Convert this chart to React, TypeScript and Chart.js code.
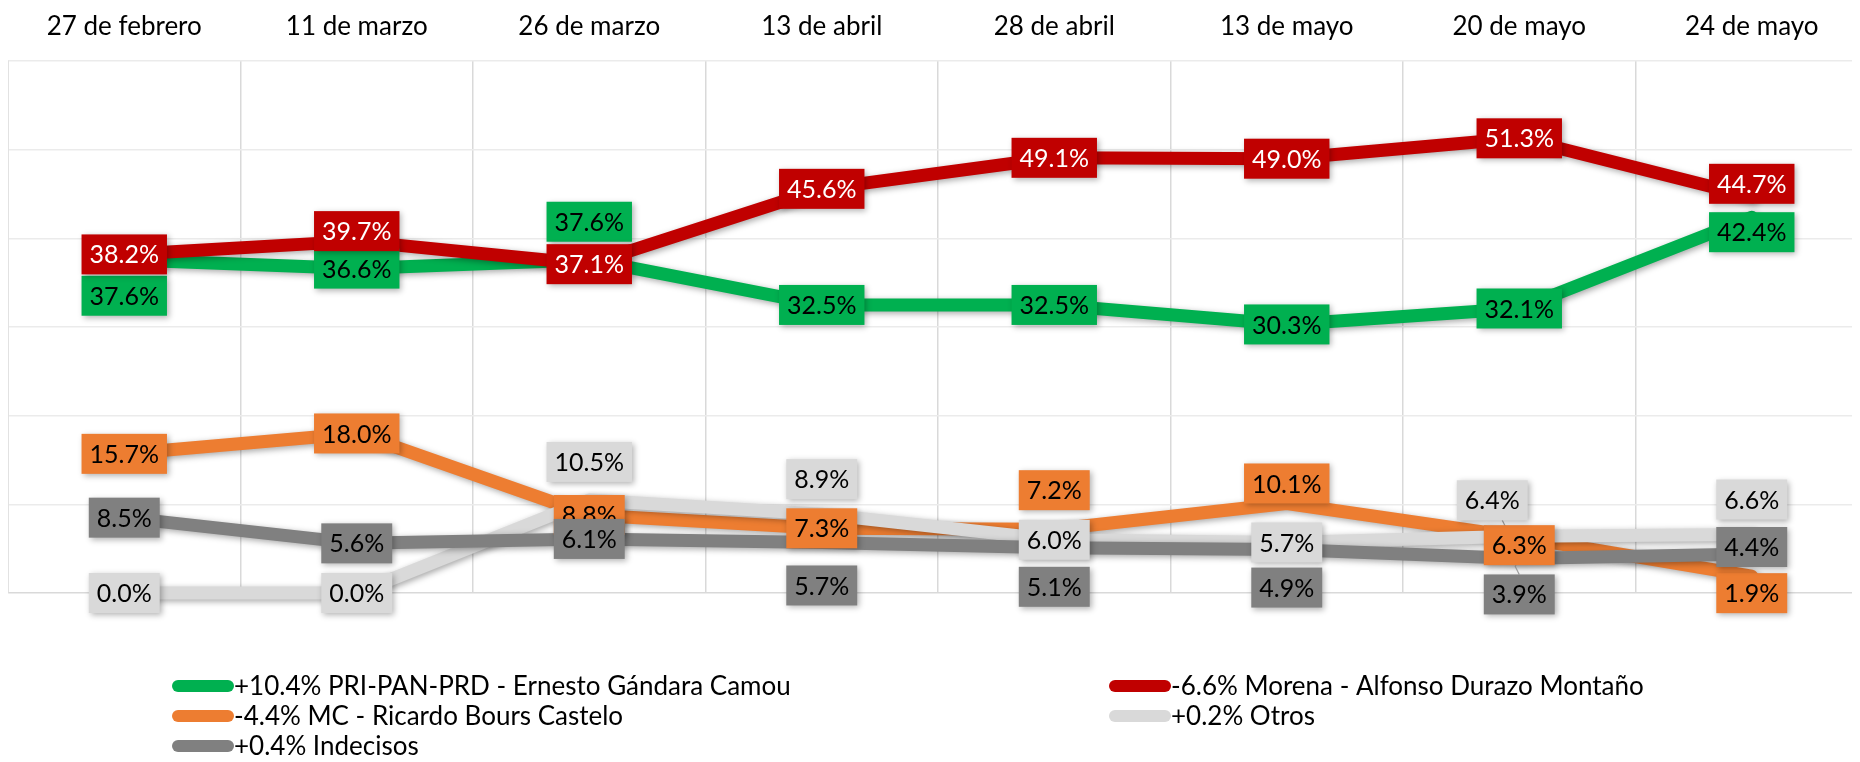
import React, { useEffect, useRef } from "react";
import { Chart, registerables } from "chart.js";
Chart.register(...registerables);

const categories = ["27 de febrero", "11 de marzo", "26 de marzo", "13 de abril", "28 de abril", "13 de mayo", "20 de mayo", "24 de mayo"];
const seriesNames = [
  "+10.4% PRI-PAN-PRD - Ernesto Gándara Camou",
  "-6.6% Morena - Alfonso Durazo Montaño",
  "-4.4% MC - Ricardo Bours Castelo",
  "+0.2% Otros",
  "+0.4% Indecisos",
];
const pripanprd = [37.6, 36.6, 37.6, 32.5, 32.5, 30.3, 32.1, 42.4];
const morena = [38.2, 39.7, 37.1, 45.6, 49.1, 49.0, 51.3, 44.7];
const mc = [15.7, 18.0, 8.8, 7.3, 7.2, 10.1, 6.3, 1.9];
const otros = [0.0, 0.0, 10.5, 8.9, 6.0, 5.7, 6.4, 6.6];
const indecisos = [8.5, 5.6, 6.1, 5.7, 5.1, 4.9, 3.9, 4.4];
const yMin = 0;
const yMax = 60;
const yStep = 10;

// styles
const colors = ["#00b050", "#c00000", "#ed7d31", "#d9d9d9", "#808080"];
const labelTextColors = ["#000", "#fff", "#000", "#000", "#000"];
// label placement offsets (px) relative to the point
const labelDy = [
  [36, 0, -38, 0, 0, 0, 0, 15],
  [0, -10, 0, 0, 0, 0, 0, -13],
  [0, 0, 0, 0, -39, -20, 8, 17],
  [0, 0, -38, -35, 0, 0, -36, -35],
  [0, 0, 0, 43, 39, 38, 36, -7],
];
const labelDx = [
  [0, 0, 0, 0, 0, 0, 0, 0],
  [0, 0, 0, 0, 0, 0, 0, 0],
  [0, 0, 0, 0, 0, 0, 0, 0],
  [0, 0, 0, 0, 0, 0, -27, 0],
  [0, 0, 0, 0, 0, 0, 0, 0],
];
const leaders = [
  [3, 6],
  [4, 6],
];

const FONT = "Lato";

const shadowPlugin = {
  id: "lineShadow",
  beforeDatasetDraw(chart: any) {
    const ctx = chart.ctx;
    ctx.save();
    ctx.shadowColor = "rgba(0,0,0,0.35)";
    ctx.shadowBlur = 6;
    ctx.shadowOffsetX = 2;
    ctx.shadowOffsetY = 2;
  },
  afterDatasetDraw(chart: any) {
    chart.ctx.restore();
  },
};

const labelPlugin = {
  id: "boxLabels",
  afterDatasetsDraw(chart: any) {
    const ctx = chart.ctx;
    ctx.save();
    ctx.font = `25px ${FONT}`;
    leaders.forEach(([i, j]) => {
      const pt = chart.getDatasetMeta(i).data[j];
      const cx = pt.x + labelDx[i][j];
      const cy = pt.y + labelDy[i][j];
      ctx.strokeStyle = "#a6a6a6";
      ctx.lineWidth = 1.2;
      ctx.beginPath();
      const ey = labelDy[i][j] < 0 ? cy + 20 : cy - 20;
      ctx.moveTo(cx + (labelDx[i][j] ? 10 : 0), ey);
      ctx.lineTo(cx + (labelDx[i][j] ? 16 : -4), (ey + pt.y) / 2 + (labelDy[i][j] < 0 ? 4 : 0));
      ctx.lineTo(pt.x, pt.y + (labelDy[i][j] < 0 ? 2 : -2));
      ctx.stroke();
    });
    chart.data.datasets.forEach((ds: any, i: number) => {
      const meta = chart.getDatasetMeta(i);
      meta.data.forEach((pt: any, j: number) => {
        const v = ds.data[j] as number;
        const text = v.toFixed(1) + "%";
        const w = ctx.measureText(text).width + 16;
        const h = 40;
        const cx = pt.x + labelDx[i][j];
        const cy = pt.y + labelDy[i][j];
        ctx.save();
        ctx.shadowColor = "rgba(0,0,0,0.3)";
        ctx.shadowBlur = 6;
        ctx.shadowOffsetX = 2;
        ctx.shadowOffsetY = 2;
        ctx.fillStyle = colors[i];
        ctx.fillRect(cx - w / 2, cy - h / 2, w, h);
        ctx.restore();
        ctx.fillStyle = labelTextColors[i];
        ctx.textAlign = "center";
        ctx.textBaseline = "middle";
        ctx.fillText(text, cx, cy + 1);
      });
    });
    ctx.restore();
  },
};

const legendPlugin = {
  id: "gridLegend",
  afterDraw(chart: any) {
    const ctx = chart.ctx;
    const colX = [164, 1101];
    const rowY = [678, 708, 738];
    ctx.save();
    ctx.font = `26px ${FONT}`;
    ctx.textBaseline = "middle";
    ctx.textAlign = "left";
    seriesNames.forEach((name, i) => {
      const x = colX[i % 2];
      const y = rowY[Math.floor(i / 2)];
      ctx.strokeStyle = colors[i];
      ctx.lineWidth = 12;
      ctx.lineCap = "round";
      ctx.beginPath();
      ctx.moveTo(x + 6, y);
      ctx.lineTo(x + 56, y);
      ctx.stroke();
      ctx.fillStyle = "#000";
      ctx.fillText(name, x + 62, y + 1);
    });
    ctx.restore();
  },
};

export default function App() {
  const ref = useRef<HTMLCanvasElement>(null);
  useEffect(() => {
    document.body.style.overflow = "hidden";
    const series = [pripanprd, morena, mc, otros, indecisos];
    const chart = new Chart(ref.current as HTMLCanvasElement, {
      type: "line",
      data: {
        labels: categories,
        datasets: series.map((d, i) => ({
          label: seriesNames[i],
          data: d,
          borderColor: colors[i],
          backgroundColor: colors[i],
          borderWidth: 13,
          pointRadius: 0,
          tension: 0,
          borderJoinStyle: "round" as const,
          borderCapStyle: "round" as const,
          clip: false as any,
          order: 5 - i,
        })),
      },
      options: {
        animation: false,
        responsive: false,
        devicePixelRatio: 1,
        layout: { autoPadding: false, padding: { left: 0, right: 0, top: -16, bottom: 169 } },
        plugins: { legend: { display: false }, tooltip: { enabled: false } },
        scales: {
          x: {
            position: "top",
            offset: true,
            grid: { offset: true, color: "#d9d9d9", drawTicks: false, lineWidth: 1.5 },
            border: { display: false },
            ticks: { color: "#000", font: { family: FONT, size: 26 }, padding: 19, maxRotation: 0 },
          },
          y: {
            min: yMin,
            max: yMax,
            ticks: { display: false, stepSize: yStep },
            grid: {
              drawTicks: false,
              color: (c: any) => (c.tick && c.tick.value === 0 ? "#d9d9d9" : "#ebebeb"),
              lineWidth: 1.5,
            },
            border: { display: true, color: "#d9d9d9", width: 1.5 },
          },
        },
      },
      plugins: [shadowPlugin, labelPlugin, legendPlugin],
    });
    return () => chart.destroy();
  }, []);
  return (
    <div style={{ width: 1852, height: 754, overflow: "hidden" }}>
      <canvas ref={ref} width={1860} height={754} style={{ display: "block", width: 1860, height: 754 }} />
    </div>
  );
}
